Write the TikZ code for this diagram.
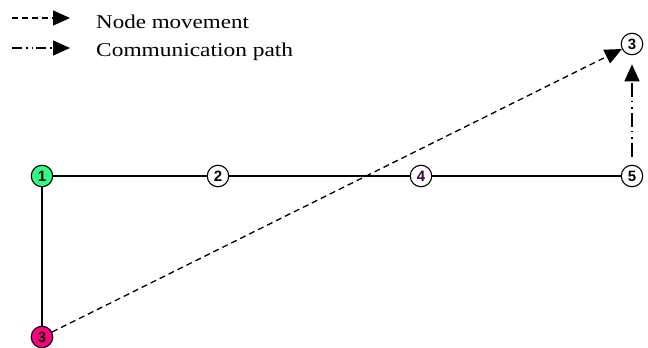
\documentclass[tikz,border=0pt]{standalone}
\usepackage{fontspec}
\setmainfont{Liberation Serif}
\newfontfamily\labelfont{Liberation Sans}
\usetikzlibrary{arrows.meta}
\definecolor{startgreen}{RGB}{48,250,130}
\definecolor{endpink}{RGB}{255,0,128}
\definecolor{darkpurple}{RGB}{60,0,70}
\tikzset{
  x=1pt, y=-1pt,
  netnode/.style={circle, draw=black, line width=1.1pt, fill=white,
    minimum size=21.5pt, inner sep=0pt,
    font=\labelfont\bfseries\fontsize{15}{15}\selectfont},
  link/.style={line width=1.1pt},
  tip/.style={-{Triangle[length=17pt,width=15pt]}},
  movement/.style={tip, line width=1.3pt, dash pattern=on 6pt off 4pt},
  commpath/.style={tip, line width=1.3pt,
    dash pattern=on 14pt off 4pt on 1.5pt off 5pt on 1.5pt off 4pt},
  legendtext/.style={anchor=base west, inner sep=0pt,
    font=\fontsize{19.5}{22}\selectfont}
}
\begin{document}
\begin{tikzpicture}
\useasboundingbox[fill=white] (0,0) rectangle (648,348);

% legend
\coordinate (lm0) at (12,18);
\coordinate (lm1) at (70,18);
\coordinate (lc0) at (12,48);
\coordinate (lc1) at (70,48);
\draw[movement] (lm0) -- (lm1);
\draw[commpath, dash pattern=on 10pt off 4pt on 1.5pt off 4pt on 1.5pt off 3pt] (lc0) -- (lc1);
\node[legendtext] (lmt) at (96,28) {\scalebox{1.18}[1]{Node movement}};
\node[legendtext] (lct) at (96,56) {\scalebox{1.2}[1]{Communication path}};

% network nodes
\node[netnode, fill=startgreen] (n1) at (42,176) {1};
\node[netnode] (n2) at (218,176) {2};
\node[netnode] (n4) at (421,176) {\textcolor{darkpurple}{4}};
\node[netnode] (n5) at (632,176) {5};
\node[netnode, fill=endpink] (n3b) at (42,337) {3};
\node[netnode] (n3t) at (632,44) {3};

% links
\draw[link] (n1) -- (n2);
\draw[link] (n2) -- (n4);
\draw[link] (n4) -- (n5);
\draw[link] (n1) -- (n3b);

% movement of node 3 and the resulting path from node 5
\draw[movement] (n3b) -- (n3t);
\draw[commpath, shorten <=8pt, shorten >=9pt] (n5.north) -- (n3t.south);
\end{tikzpicture}
\end{document}
